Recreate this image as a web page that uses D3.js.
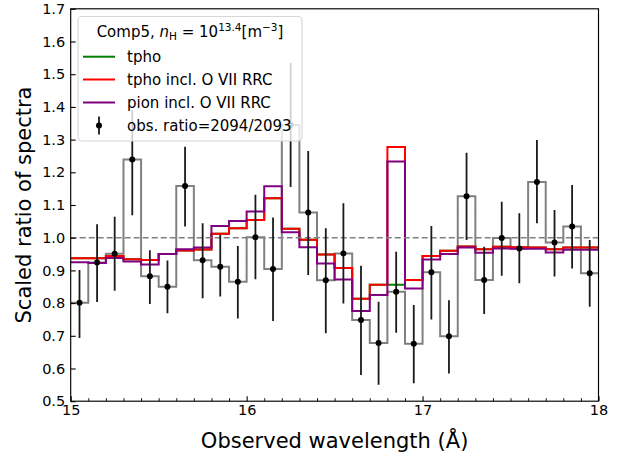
<!DOCTYPE html>
<html>
<head>
<meta charset="utf-8">
<script src="https://cdn.jsdelivr.net/npm/d3@7"></script>
<style>
  html, body { margin: 0; padding: 0; background: #fff; }
  svg { display: block; font-family: "DejaVu Sans", sans-serif; }
</style>
</head>
<body>
<svg id="chart" width="630" height="457"></svg>
<script>
// ---- data ----
const binCenters = [15.05,15.15,15.25,15.35,15.45,15.55,15.65,15.75,15.85,15.95,
                    16.05,16.15,16.25,16.35,16.45,16.55,16.65,16.75,16.85,16.95,
                    17.05,17.15,17.25,17.35,17.45,17.55,17.65,17.75,17.85,17.95];
const binEdges = [15.0,15.1,15.2,15.3,15.4,15.5,15.6,15.7,15.8,15.9,
                  16.0,16.1,16.2,16.3,16.4,16.5,16.6,16.7,16.8,16.9,
                  17.0,17.1,17.2,17.3,17.4,17.5,17.6,17.7,17.8,17.9,18.0];
const obsRatio = [0.801,0.924,0.951,1.239,0.882,0.850,1.158,0.931,0.911,0.865,
                  1.001,0.904,1.345,1.077,0.870,0.952,0.748,0.678,0.835,0.676,
                  0.894,0.699,1.127,0.871,0.999,0.967,1.170,0.985,1.034,0.891];
const obsLow  = [0.693,0.803,0.838,1.069,0.797,0.769,1.034,0.815,0.820,0.753,
                 0.873,0.745,1.155,0.886,0.708,0.799,0.580,0.550,0.709,0.555,
                 0.750,0.585,0.993,0.767,0.884,0.861,1.044,0.881,0.906,0.789];
const obsHigh = [0.901,1.041,1.064,1.390,0.962,0.930,1.278,1.044,1.008,0.975,
                 1.131,1.062,1.534,1.265,1.029,1.105,0.914,0.804,0.957,0.794,
                 1.036,0.809,1.260,0.972,1.110,1.075,1.299,1.085,1.161,0.993];
const tpho     = [0.937,0.937,0.944,0.934,0.932,0.950,0.961,0.964,1.012,1.029,
                  1.054,1.121,1.027,0.994,0.949,0.907,0.813,0.856,0.856,0.871,
                  0.944,0.960,0.973,0.965,0.972,0.971,0.970,0.965,0.970,0.970];
const tphoRRC  = [0.937,0.937,0.944,0.934,0.932,0.950,0.961,0.964,1.012,1.029,
                  1.054,1.121,1.027,0.994,0.949,0.907,0.813,0.856,1.277,0.871,
                  0.944,0.960,0.973,0.965,0.972,0.971,0.970,0.965,0.970,0.970];
const pionRRC  = [0.925,0.923,0.938,0.927,0.918,0.950,0.965,0.970,1.036,1.051,
                  1.080,1.157,1.017,0.971,0.921,0.872,0.776,0.825,1.233,0.845,
                  0.933,0.950,0.970,0.954,0.967,0.966,0.966,0.955,0.963,0.963];
const xMajorTicks = [15, 16, 17, 18];
const xMinorTicks = [15.1,15.2,15.3,15.4,15.5,15.6,15.7,15.8,15.9,
                     16.1,16.2,16.3,16.4,16.5,16.6,16.7,16.8,16.9,
                     17.1,17.2,17.3,17.4,17.5,17.6,17.7,17.8,17.9];
const yTicks = [0.5,0.6,0.7,0.8,0.9,1.0,1.1,1.2,1.3,1.4,1.5,1.6,1.7];
const refLine = 1.0;

// ---- layout ----
const L = 70.7, R = 598.5, T = 8.8, B = 401.2;
const svg = d3.select("#chart");
const x = d3.scaleLinear().domain([15, 18]).range([L, R]);
const y = d3.scaleLinear().domain([0.5, 1.7]).range([B, T]);

svg.append("defs").append("clipPath").attr("id", "clip")
  .append("rect").attr("x", L).attr("y", T).attr("width", R - L).attr("height", B - T);

const plot = svg.append("g").attr("clip-path", "url(#clip)");

// step helper
function stepData(vals) {
  const pts = binEdges.slice(0, -1).map((e, i) => [e, vals[i]]);
  pts.push([binEdges[binEdges.length - 1], vals[vals.length - 1]]);
  return pts;
}
const stepLine = d3.line().x(d => x(d[0])).y(d => y(d[1])).curve(d3.curveStepAfter);

// observed histogram (gray)
plot.append("path").datum(stepData(obsRatio))
  .attr("d", stepLine).attr("fill", "none")
  .attr("stroke", "#808080").attr("stroke-width", 2);

// models
const models = [
  { vals: tpho, color: "#008000" },
  { vals: tphoRRC, color: "#ff0000" },
  { vals: pionRRC, color: "#800080" }
];
models.forEach(m => {
  plot.append("path").datum(stepData(m.vals))
    .attr("d", stepLine).attr("fill", "none")
    .attr("stroke", m.color).attr("stroke-width", 2);
});

// reference dashed line
plot.append("line")
  .attr("x1", L).attr("x2", R).attr("y1", y(refLine)).attr("y2", y(refLine))
  .attr("stroke", "#808080").attr("stroke-width", 1.6).attr("stroke-dasharray", "6,3");

// error bars
const eb = plot.append("g");
binCenters.forEach((c, i) => {
  eb.append("line")
    .attr("x1", x(c)).attr("x2", x(c))
    .attr("y1", y(obsLow[i])).attr("y2", y(obsHigh[i]))
    .attr("stroke", "#1a1a1a").attr("stroke-width", 1.8);
  eb.append("circle").attr("cx", x(c)).attr("cy", y(obsRatio[i]))
    .attr("r", 3).attr("fill", "#000");
});

// ---- axes ----
const xAxis = d3.axisBottom(x).tickValues(xMajorTicks).tickFormat(d3.format("d"))
  .tickSizeInner(-5).tickSizeOuter(0).tickPadding(4);
const gx = svg.append("g").attr("transform", `translate(0,${B})`).call(xAxis);
gx.select(".domain").remove();
gx.selectAll("text").attr("font-size", 14.5).attr("fill", "#000").attr("font-family", "DejaVu Sans");
gx.selectAll("line").attr("stroke", "#000").attr("stroke-width", 1.1);

const xMinor = d3.axisBottom(x).tickValues(xMinorTicks).tickFormat("")
  .tickSizeInner(-3).tickSizeOuter(0);
const gxm = svg.append("g").attr("transform", `translate(0,${B})`).call(xMinor);
gxm.select(".domain").remove();
gxm.selectAll("line").attr("stroke", "#000").attr("stroke-width", 0.9);

const yAxis = d3.axisLeft(y).tickValues(yTicks).tickFormat(d3.format(".1f"))
  .tickSizeInner(-5).tickSizeOuter(0).tickPadding(5.5);
const gy = svg.append("g").attr("transform", `translate(${L},0)`).call(yAxis);
gy.select(".domain").remove();
gy.selectAll("text").attr("font-size", 14.5).attr("fill", "#000").attr("font-family", "DejaVu Sans");
gy.selectAll("line").attr("stroke", "#000").attr("stroke-width", 1.1);

// frame
svg.append("rect").attr("x", L).attr("y", T).attr("width", R - L).attr("height", B - T)
  .attr("fill", "none").attr("stroke", "#000").attr("stroke-width", 1.15);

// axis labels
svg.append("text").attr("x", (L + R) / 2).attr("y", 448)
  .attr("text-anchor", "middle").attr("font-size", 21).attr("fill", "#000")
  .text("Observed wavelength (Å)");
svg.append("text").attr("transform", `translate(31,${(T + B) / 2}) rotate(-90)`)
  .attr("text-anchor", "middle").attr("font-size", 21).attr("fill", "#000")
  .text("Scaled ratio of spectra");

// ---- legend ----
const lg = svg.append("g");
lg.append("rect").attr("x", 78).attr("y", 16.5).attr("width", 224).attr("height", 124.5)
  .attr("rx", 4).attr("fill", "#fff").attr("fill-opacity", 0.8)
  .attr("stroke", "#d6d6d6").attr("stroke-width", 1.1);

const title = lg.append("text").attr("x", 190).attr("y", 37)
  .attr("text-anchor", "middle").attr("font-size", 15).attr("fill", "#000");
title.append("tspan").text("Comp5, ");
title.append("tspan").attr("font-style", "italic").text("n");
title.append("tspan").attr("font-size", 10.5).attr("dy", 3).text("H");
title.append("tspan").attr("dy", -3).text(" = 10");
title.append("tspan").attr("font-size", 10.5).attr("dy", -6).text("13.4");
title.append("tspan").attr("dy", 6).text("[m");
title.append("tspan").attr("font-size", 10.5).attr("dy", -6).text("\u22123");
title.append("tspan").attr("dy", 6).text("]");

const legendItems = [
  { label: "tpho", color: "#008000", yy: 56.7 },
  { label: "tpho incl. O VII RRC", color: "#ff0000", yy: 79.5 },
  { label: "pion incl. O VII RRC", color: "#800080", yy: 102.5 }
];
legendItems.forEach(it => {
  lg.append("line").attr("x1", 83).attr("x2", 115).attr("y1", it.yy).attr("y2", it.yy)
    .attr("stroke", it.color).attr("stroke-width", 2);
  lg.append("text").attr("x", 127).attr("y", it.yy).attr("dy", "0.36em")
    .attr("font-size", 15).attr("fill", "#000").text(it.label);
});
const obsY = 125.5;
lg.append("line").attr("x1", 99).attr("x2", 99).attr("y1", obsY - 9).attr("y2", obsY + 9)
  .attr("stroke", "#1a1a1a").attr("stroke-width", 1.8);
lg.append("circle").attr("cx", 99).attr("cy", obsY).attr("r", 3).attr("fill", "#000");
lg.append("text").attr("x", 127).attr("y", obsY).attr("dy", "0.36em")
  .attr("font-size", 15).attr("fill", "#000").text("obs. ratio=2094/2093");
</script>
</body>
</html>
